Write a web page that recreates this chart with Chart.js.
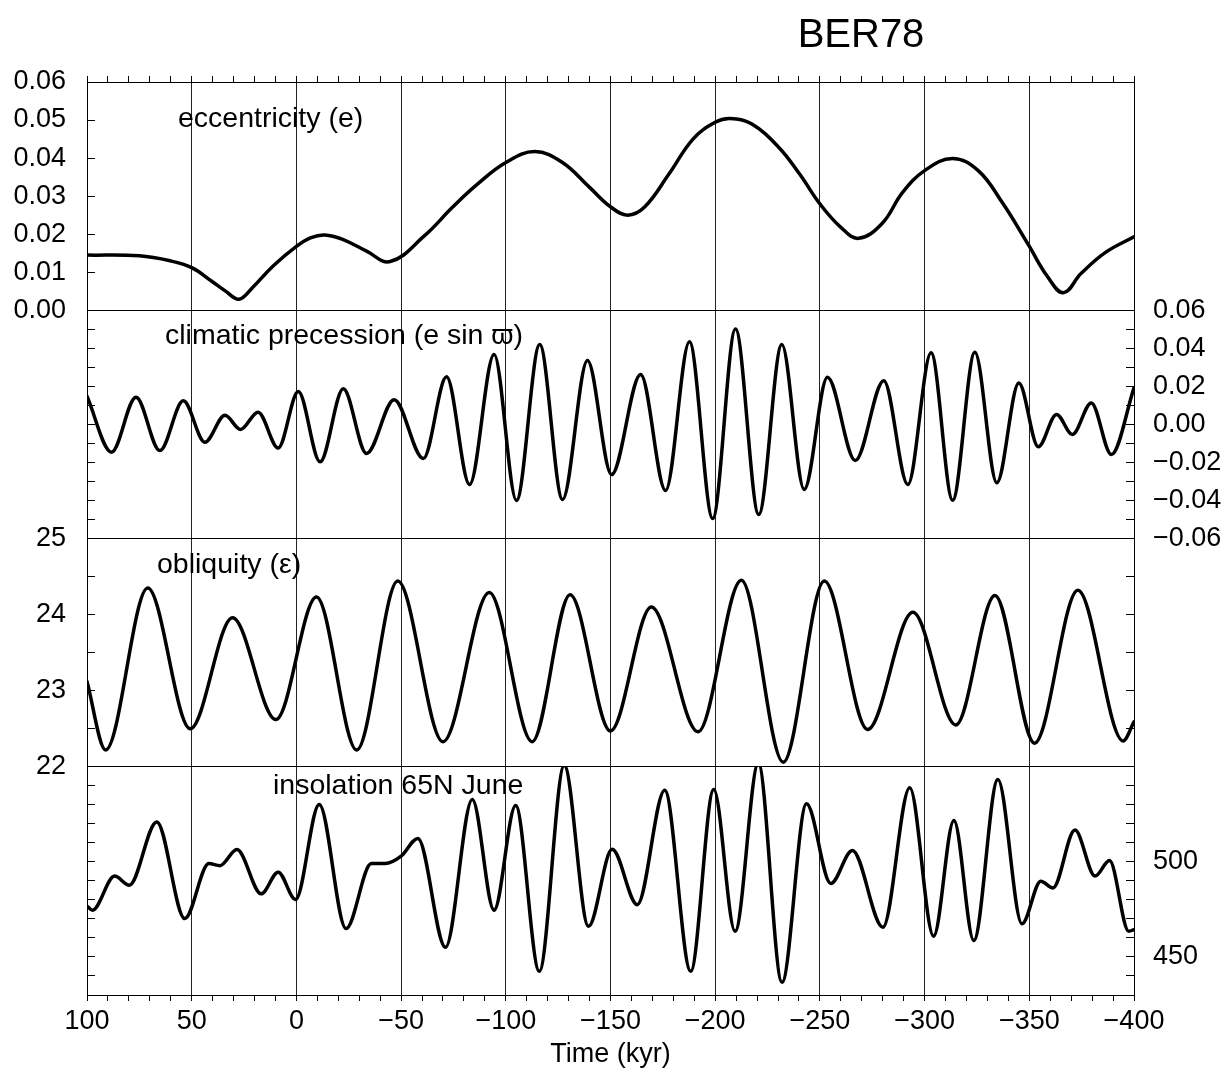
<!DOCTYPE html>
<html>
<head>
<meta charset="utf-8">
<title>BER78</title>
<script src="https://cdn.jsdelivr.net/npm/chart.js@4.4.1/dist/chart.umd.min.js"></script>
<style>
  html, body { margin: 0; padding: 0; background: #fff; }
</style>
</head>
<body>
<canvas id="orbit" width="1229" height="1072"></canvas>
<script>
// ---- data (time in kyr, positive = future) ----
const chartTitle = "BER78";
const panelNames = ["eccentricity (e)", "climatic precession (e sin \u03D6)", "obliquity (\u03B5)", "insolation 65N June"];

const eccTime  = [100, 75, 60.3, 50, 40.6, 34, 27.4, 20.9, 11, 0, -7, -13.6, -21.8, -33.3, -44.8, -61.2, -74.4, -85.9, -100.2, -113.8, -126.9, -140, -150, -158.2, -166.4, -177.9, -189.4, -200, -207.1, -217.3, -230.4, -240.3, -250.1, -260, -268.5, -279.7, -289.5, -300, -313.3, -325.6, -337.1, -349.9, -358.5, -366.3, -374.8, -386.4, -400];
const eccValue = [0.0145, 0.0143, 0.013, 0.0112, 0.0077, 0.0051, 0.0029, 0.006, 0.0117, 0.0168, 0.0191, 0.0198, 0.0187, 0.0156, 0.0128, 0.0196, 0.027, 0.0329, 0.0389, 0.0417, 0.0389, 0.0323, 0.0272, 0.025, 0.0272, 0.0358, 0.045, 0.0494, 0.0504, 0.049, 0.0428, 0.0358, 0.0279, 0.0218, 0.0189, 0.0228, 0.031, 0.0367, 0.0399, 0.0367, 0.0283, 0.0169, 0.009, 0.0046, 0.0097, 0.0152, 0.0193];

const precTime  = [100, 88.3, 76.6, 65.2, 54.0, 43.7, 34.1, 26.7, 18.3, 8.7, -0.9, -11.3, -22.4, -33.5, -46.7, -60.6, -71.7, -82.7, -94.4, -105.1, -116.2, -127.1, -139, -150.5, -164.4, -176.3, -187.7, -198.8, -209.7, -220.8, -231.8, -242.5, -253.6, -266.9, -280.5, -292, -303.1, -313.4, -324, -334.5, -345, -354.3, -363, -370.6, -379.6, -389.2, -400];
const precValue = [0.0148, -0.0146, 0.0143, -0.0138, 0.0124, -0.0094, 0.0048, -0.0027, 0.0064, -0.0124, 0.0173, -0.0197, 0.0187, -0.0153, 0.013, -0.018, 0.025, -0.0316, 0.0368, -0.040, 0.042, -0.0395, 0.0336, -0.0264, 0.0262, -0.0348, 0.0434, -0.0495, 0.0502, -0.0474, 0.042, -0.0342, 0.0248, -0.019, 0.023, -0.0316, 0.0376, -0.0399, 0.0379, -0.0307, 0.0218, -0.0118, 0.0052, -0.0053, 0.0113, -0.0159, 0.0192];

const oblTime  = [100, 91.1, 71, 50.7, 30.5, 9.8, -9.6, -28.8, -48.4, -70, -92.1, -112.6, -130.7, -150, -169.5, -191.8, -212.5, -232.5, -252.1, -272.8, -294.4, -314.9, -333.6, -352.5, -373.2, -394.8, -400];
const oblValue = [23.12, 22.22, 24.35, 22.50, 23.96, 22.62, 24.23, 22.22, 24.44, 22.33, 24.29, 22.33, 24.26, 22.47, 24.10, 22.46, 24.45, 22.06, 24.44, 22.49, 24.03, 22.55, 24.25, 22.31, 24.32, 22.34, 22.59];

const insTime  = [100, 97.4, 86.8, 79.8, 66.7, 53.3, 41.8, 36.5, 28.4, 16.8, 8.7, 0.4, -10.9, -23.7, -35.8, -42.4, -50, -58, -71.2, -84, -94.4, -104.7, -116, -127.9, -139.5, -150.8, -162.8, -175.9, -188.3, -199.3, -209.5, -220.6, -231.9, -243.6, -255.2, -265.5, -280.1, -292.9, -304.3, -314, -323.5, -335, -346.5, -355.5, -361.3, -371.8, -381.4, -388.3, -397.5, -400];
const insValue = [476.7, 474.6, 492.5, 487.7, 521, 470.2, 499.1, 498, 506.5, 483.2, 494.6, 480.2, 530.2, 464.9, 499.1, 499.1, 503, 512.3, 455.1, 532.8, 474.6, 529.6, 442.5, 550.7, 466.1, 506.6, 477.5, 537.7, 442.5, 538.1, 463.5, 551.8, 436.7, 530.5, 488.6, 506, 465.6, 538.9, 460.9, 521.8, 458.6, 543.3, 467.4, 489.8, 486.3, 516.7, 492.5, 500.7, 463.5, 464.4];

// labelled ticks
const timeLabels = [100, 50, 0, -50, -100, -150, -200, -250, -300, -350, -400];
const precLabels = [0.06, 0.04, 0.02, 0, -0.02, -0.04, -0.06];
const oblLabels  = [25, 24, 23, 22];
const insLabels  = [500, 450];

// ---- layout ----
const FONT = '"Liberation Sans", "DejaVu Sans", Arial, sans-serif';
const tickFont = {family: FONT, size: 27};
const LEFT_W = 87, RIGHT_W = 95, TOP_H = 82, BOTTOM_H = 77;
const TL = -8; // inward ticks

function fmt(v, d) {
  const s = Math.abs(v).toFixed(d);
  return v < -1e-9 ? '\u2212' + s : s;
}
function has(list, v) {
  return list.some(l => Math.abs(l - v) < 1e-9);
}
function pts(t, v) {
  return t.map((x, i) => ({x: x, y: v[i]}));
}

function panelAxis(position, weight, min, max, step, label, showTicks) {
  return {
    type: 'linear', position: position, stack: 'panels', stackWeight: 1, weight: weight,
    min: min, max: max,
    ticks: {
      stepSize: step, autoSkip: false, maxTicksLimit: 100,
      display: !!label, color: '#000', font: tickFont,
      padding: position === 'left' ? 29 : 27,
      callback: label || (() => '')
    },
    grid: {
      drawOnChartArea: true, drawTicks: true, tickLength: TL, lineWidth: 1,
      color: c => (c.tick && Math.abs(c.tick.value - min) < 1e-9) ? '#000' : 'rgba(0,0,0,0)',
      tickColor: showTicks ? '#000' : 'rgba(0,0,0,0)'
    },
    border: {display: true, color: '#000', width: 1},
    afterFit: s => { s.width = position === 'left' ? LEFT_W : RIGHT_W; }
  };
}

const lineStyle = {
  borderColor: '#000', borderWidth: 3.5, pointRadius: 0, fill: false,
  cubicInterpolationMode: 'monotone', borderJoinStyle: 'round', borderCapStyle: 'round'
};
// eccentricity is a slow smooth curve: plain spline reads better than monotone
const smoothStyle = Object.assign({}, lineStyle, {cubicInterpolationMode: 'default', tension: 0.4});

const panelText = {
  id: 'panelText',
  afterDraw(chart) {
    const ctx = chart.ctx;
    const ids = ['yEcc', 'yPrec', 'yObl', 'yIns'];
    const lx = [178, 165, 157, 273];
    const dy = [37, 26, 27, 19];
    ctx.save();
    ctx.fillStyle = '#000';
    ctx.textBaseline = 'middle';
    ctx.textAlign = 'center';
    ctx.font = '40px ' + FONT;
    ctx.fillText(chartTitle, 861, 36);
    ctx.textAlign = 'left';
    ctx.font = '28.5px ' + FONT;
    panelNames.forEach((name, i) => {
      ctx.fillText(name, lx[i], chart.scales[ids[i]].top + dy[i]);
    });
    ctx.restore();
  }
};

new Chart(document.getElementById('orbit'), {
  type: 'line',
  data: {
    datasets: [
      Object.assign({data: pts(eccTime, eccValue), yAxisID: 'yEcc'}, smoothStyle),
      Object.assign({data: pts(precTime, precValue), yAxisID: 'yPrec'}, lineStyle),
      Object.assign({data: pts(oblTime, oblValue), yAxisID: 'yObl'}, lineStyle),
      Object.assign({data: pts(insTime, insValue), yAxisID: 'yIns'}, lineStyle)
    ]
  },
  options: {
    responsive: false,
    animation: false,
    layout: {padding: 0},
    plugins: {legend: {display: false}, tooltip: {enabled: false}, title: {display: false}},
    scales: {
      x: {
        type: 'linear', position: 'bottom', min: -400, max: 100, reverse: true,
        ticks: {
          stepSize: 10, autoSkip: false, maxTicksLimit: 100, maxRotation: 0,
          color: '#000', font: tickFont, padding: 4,
          callback: v => has(timeLabels, v) ? fmt(v, 0) : ''
        },
        grid: {
          drawOnChartArea: true, drawTicks: true, tickLength: 6, lineWidth: 1,
          color: c => (c.tick && has(timeLabels, c.tick.value)) ? '#222' : 'rgba(0,0,0,0)',
          tickColor: '#000'
        },
        border: {display: true, color: '#000', width: 1},
        title: {display: true, text: 'Time (kyr)', color: '#000', font: {family: FONT, size: 27}, padding: {top: 0, bottom: 1}},
        afterFit: s => { s.height = BOTTOM_H; }
      },
      xTop: {
        type: 'linear', position: 'top', min: -400, max: 100, reverse: true,
        ticks: {stepSize: 10, autoSkip: false, maxTicksLimit: 100, display: false},
        grid: {drawOnChartArea: false, drawTicks: true, tickLength: 6, tickColor: '#000'},
        border: {display: true, color: '#000', width: 1},
        afterFit: s => { s.height = TOP_H; }
      },
      // left column: top to bottom by descending weight
      yEcc:  panelAxis('left', 4, 0, 0.06, 0.01, v => fmt(v, 2), true),
      yPrecL: panelAxis('left', 3, -0.06, 0.06, 0.01, null, true),
      yObl:  panelAxis('left', 2, 22, 25, 0.5, v => has(oblLabels, v) ? fmt(v, 0) : '', true),
      yInsL: panelAxis('left', 1, 430, 550, 10, null, true),
      // right column: top to bottom by ascending weight
      yEccR: panelAxis('right', 1, 0, 0.06, 0.01, null, false),
      yPrec: panelAxis('right', 2, -0.06, 0.06, 0.01, v => has(precLabels, v) ? fmt(v, 2) : '', true),
      yOblR: panelAxis('right', 3, 22, 25, 0.5, null, true),
      yIns:  panelAxis('right', 4, 430, 550, 10, v => has(insLabels, v) ? fmt(v, 0) : '', true)
    }
  },
  plugins: [panelText]
});
</script>
</body>
</html>
